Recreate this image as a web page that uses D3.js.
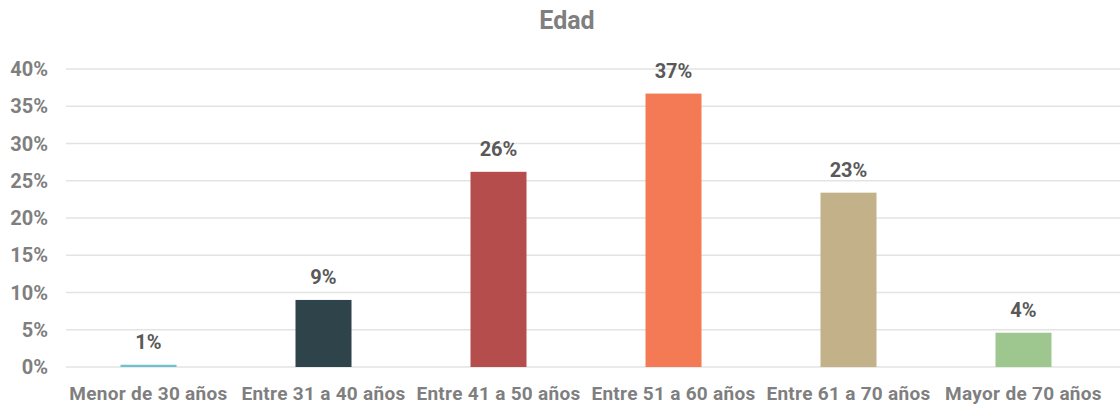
<!DOCTYPE html>
<html lang="es">
<head>
<meta charset="UTF-8">
<title>Edad</title>
<script src="https://cdn.jsdelivr.net/npm/d3@7"></script>
<style type="text/css">
  body { margin: 0; background: #fff; }
  text { font-family: Roboto, "DejaVu Sans", sans-serif; font-weight: bold; }
</style>
</head>
<body>
<div id="chart"></div>
<script>
// datos
var categorias = ["Menor de 30 años", "Entre 31 a 40 años", "Entre 41 a 50 años",
                  "Entre 51 a 60 años", "Entre 61 a 70 años", "Mayor de 70 años"];
var valores = [0.3, 9.0, 26.2, 36.7, 23.4, 4.6];
var etiquetas = ["1%", "9%", "26%", "37%", "23%", "4%"];
var colores = ["#6cc3cb", "#2f434b", "#b54d4c", "#f47a55", "#c2b189", "#9dc78f"];
var ticksY = [0, 5, 10, 15, 20, 25, 30, 35, 40];

var width = 1120, height = 407;
var m = {top: 69, right: 9, bottom: 40, left: 61};

var svg = d3.select("#chart").append("svg")
    .attr("width", width).attr("height", height);

var x = d3.scaleBand().domain(categorias)
    .range([m.left, width - m.right]).padding(0.68).paddingOuter(0.34);
var y = d3.scaleLinear().domain([0, 40]).range([height - m.bottom, m.top]);

// titulo
svg.append("text")
    .attr("x", 567).attr("y", 29)
    .attr("text-anchor", "middle")
    .attr("fill", "#7f7f7f")
    .style("font-size", "25px")
    .text("Edad");

// lineas de cuadricula
svg.selectAll("line.grid").data(ticksY).enter().append("line")
    .attr("class", "grid")
    .attr("x1", 66).attr("x2", width)
    .attr("y1", function(d){ return y(d); })
    .attr("y2", function(d){ return y(d); })
    .attr("stroke", "#e3e3e3").attr("stroke-width", 1.3);

// eje y
svg.selectAll("text.ytick").data(ticksY).enter().append("text")
    .attr("class", "ytick")
    .attr("x", 48)
    .attr("y", function(d){ return y(d) + 7; })
    .attr("text-anchor", "end")
    .attr("fill", "#7f7f7f")
    .style("font-size", "20px")
    .text(function(d){ return d + "%"; });

// barras
svg.selectAll("rect").data(valores).enter().append("rect")
    .attr("x", function(d, i){ return x(categorias[i]); })
    .attr("width", x.bandwidth())
    .attr("y", function(d){ return y(d); })
    .attr("height", function(d){ return y(0) - y(d); })
    .attr("fill", function(d, i){ return colores[i]; });

// etiquetas de datos
svg.selectAll("text.lbl").data(valores).enter().append("text")
    .attr("class", "lbl")
    .attr("x", function(d, i){ return x(categorias[i]) + x.bandwidth() / 2; })
    .attr("y", function(d){ return y(d) - 16; })
    .attr("text-anchor", "middle")
    .attr("fill", "#595959")
    .style("font-size", "20px")
    .text(function(d, i){ return etiquetas[i]; });

// eje x
svg.selectAll("text.xlab").data(categorias).enter().append("text")
    .attr("class", "xlab")
    .attr("x", function(d){ return x(d) + x.bandwidth() / 2; })
    .attr("y", 400)
    .attr("text-anchor", "middle")
    .attr("fill", "#7f7f7f")
    .style("font-size", "19px")
    .style("letter-spacing", "0.3px")
    .text(function(d){ return d; });
</script>
</body>
</html>
